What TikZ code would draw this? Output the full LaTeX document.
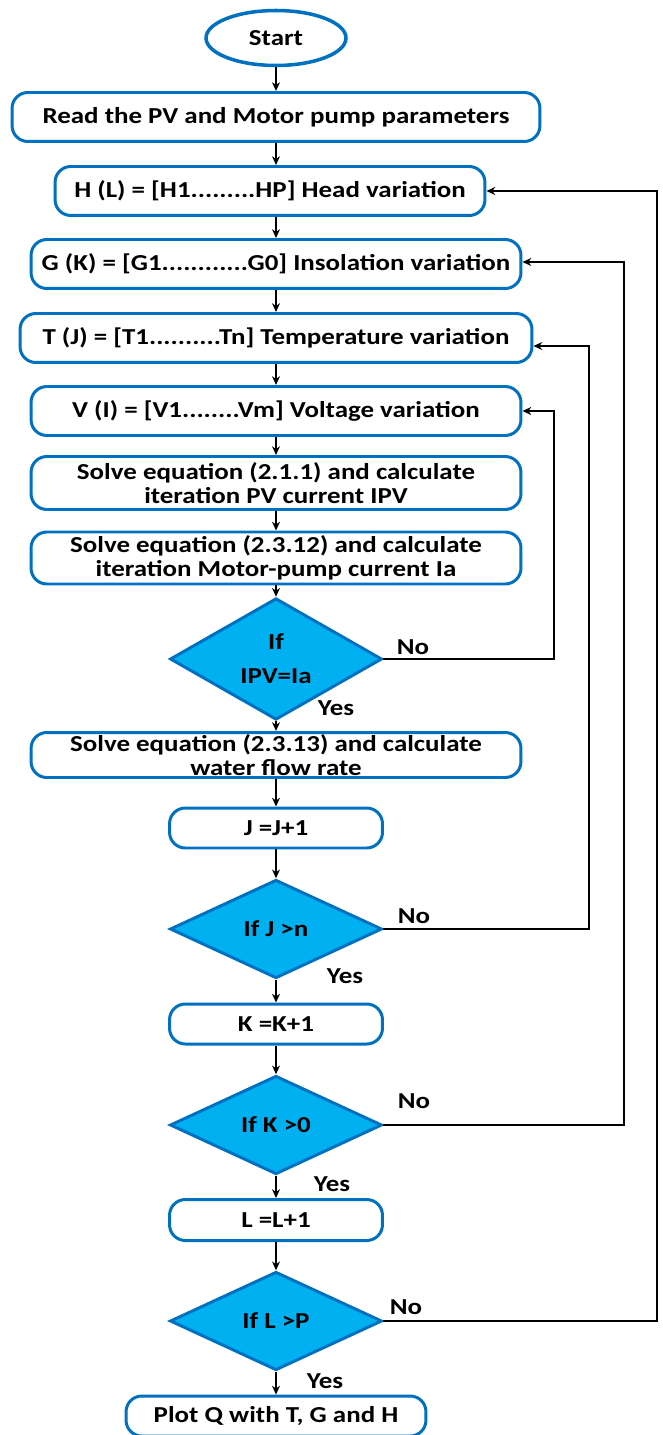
\documentclass[tikz,border=0pt]{standalone}
\usepackage{fontspec}
\setmainfont{Carlito}[FakeStretch=1.18]
\usepackage{xcolor}
\usepackage{tikz}
\usetikzlibrary{shapes,shapes.geometric,arrows.meta,positioning,calc}
\definecolor{boxblue}{RGB}{0,112,192}
\definecolor{diafill}{RGB}{0,176,240}

\begin{document}
\begin{tikzpicture}[
    x=0.02cm, y=-0.02cm,
    block/.style={rectangle, draw=boxblue, fill=white, line width=1.7pt, rounded corners=9pt, minimum width=9.8cm, minimum height=0.98cm, font=\fontsize{13}{13.5}\selectfont\bfseries, align=center, inner sep=1pt},
    terminal/.style={ellipse, draw=boxblue, line width=2pt, minimum width=2.8cm, minimum height=1.1cm, font=\fontsize{13}{13.5}\selectfont\bfseries},
    decision/.style={diamond, draw=boxblue, fill=diafill, line width=1.7pt, minimum width=4.24cm, minimum height=1.97cm, inner sep=0pt, font=\fontsize{13}{13.5}\selectfont\bfseries, align=center},
    lbl/.style={font=\fontsize{13}{13.5}\selectfont\bfseries, inner sep=1pt},
    arrow/.style={-{Stealth[length=5pt,width=4.5pt]}, line width=0.7pt, black}
]
    \useasboundingbox (0,0) rectangle (662,1435);

    \node[terminal] (start) at (276,38) {Start};
    \node[block, minimum width=10.56cm] (read) at (276,117) {Read the PV and Motor pump parameters};
    \node[block, minimum width=8.6cm] (head) at (270,191) {H (L) = [H1.........HP] Head variation};
    \node[block] (ins) at (276,264) {G (K) = [G1............G0] Insolation variation};
    \node[block, minimum width=10.24cm] (temp) at (276,338) {T (J) = [T1..........Tn] Temperature variation};
    \node[block] (volt) at (276,411) {V (I) = [V1........Vm] Voltage variation};
    \node[block, minimum height=1.06cm] (ipv) at (276,483) {Solve equation (2.1.1) and calculate\\iteration PV current IPV};
    \node[block, minimum height=1.04cm] (ia) at (276,558) {Solve equation (2.3.12) and calculate\\iteration Motor-pump current Ia};
    \node[decision] (ifipv) at (276,659) {If\\[6pt]IPV=Ia};
    \node[block, minimum height=0.9cm] (flow) at (276,755) {Solve equation (2.3.13) and calculate\\water flow rate};
    \node[block, minimum width=4.26cm, minimum height=0.8cm] (jinc) at (276,828) {J =J+1};
    \node[decision] (ifj) at (276,929) {If J >n};
    \node[block, minimum width=4.26cm, minimum height=0.8cm] (kinc) at (276,1024) {K =K+1};
    \node[decision] (ifk) at (276,1125) {If K >0};
    \node[block, minimum width=4.26cm, minimum height=0.82cm] (linc) at (276,1220) {L =L+1};
    \node[decision] (ifl) at (276,1321) {If L >P};
    \node[block, minimum width=6cm, minimum height=0.8cm] (plot) at (276,1416) {Plot Q with T, G and H};

    % return columns
    \coordinate (rv) at (554,0);
    \coordinate (rt) at (589,0);
    \coordinate (rg) at (624,0);
    \coordinate (rh) at (657,0);

    % main chain
    \draw[arrow] (start) -- (read);
    \draw[arrow] (read) -- (read |- head.north);
    \draw[arrow] (read |- head.south) -- (read |- ins.north);
    \draw[arrow] (ins) -- (temp);
    \draw[arrow] (temp) -- (volt);
    \draw[arrow] (volt) -- (ipv);
    \draw[arrow] (ipv) -- (ia);
    \draw[arrow] (ia) -- (ifipv);
    \draw[arrow] (ifipv) -- (flow);
    \draw[arrow] (flow) -- (jinc);
    \draw[arrow] (jinc) -- (ifj);
    \draw[arrow] (ifj) -- (kinc);
    \draw[arrow] (kinc) -- (ifk);
    \draw[arrow] (ifk) -- (linc);
    \draw[arrow] (linc) -- (ifl);
    \draw[arrow] (ifl) -- (plot);

    % loops back
    \draw[arrow] (ifipv.east) -- (ifipv.east -| rv) |- (volt.east);
    \draw[arrow] (ifj.east) -- (ifj.east -| rt) |- ($(temp.east)+(0,8)$);
    \draw[arrow] (ifk.east) -- (ifk.east -| rg) |- ($(ins.east)+(0,-2)$);
    \draw[arrow] (ifl.east) -- (ifl.east -| rh) |- (head.east);

    % labels
    \node[lbl] (no1) at (413,647) {No};
    \node[lbl] (yes1) at (336,708) {Yes};
    \node[lbl] (no2) at (414,916) {No};
    \node[lbl] (yes2) at (345,976) {Yes};
    \node[lbl] (no3) at (414,1101) {No};
    \node[lbl] (yes3) at (332,1184) {Yes};
    \node[lbl] (no4) at (406,1307) {No};
    \node[lbl] (yes4) at (325,1381) {Yes};
\end{tikzpicture}
\end{document}
